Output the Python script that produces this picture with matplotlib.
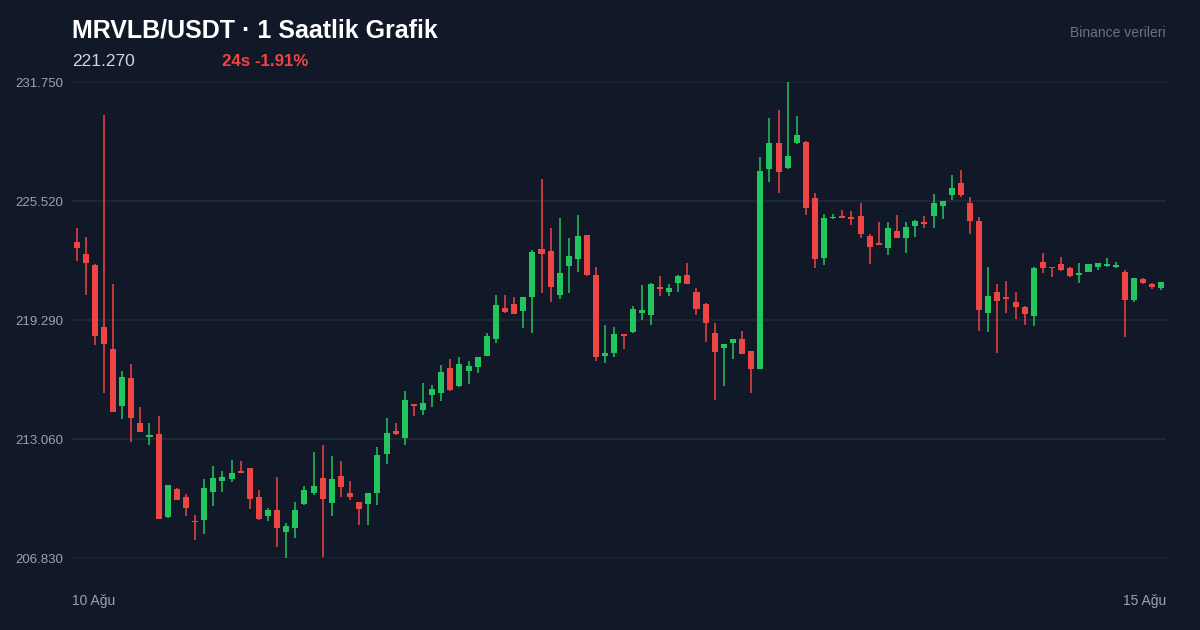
import numpy as np
import matplotlib
matplotlib.use("Agg")
from matplotlib import pyplot as plt

# hourly candles
opens = [223.36, 222.75, 222.19, 218.92, 217.77, 214.80, 216.26, 213.92, 213.18, 213.31,
         208.96, 210.46, 210.04, 208.78, 208.82, 210.27, 210.85, 210.97, 211.37, 211.53,
         210.01, 209.03, 209.36, 208.18, 208.39, 209.64, 210.25, 211.04, 209.70, 211.12,
         210.25, 209.75, 209.67, 210.25, 212.28, 213.48, 213.13, 214.88, 214.58, 215.37,
         215.45, 216.78, 215.85, 216.64, 216.85, 217.41, 218.28, 219.93, 220.11, 219.78,
         220.51, 222.99, 222.89, 220.58, 222.13, 222.50, 223.72, 221.63, 217.39, 217.58,
         218.54, 218.68, 219.67, 219.55, 221.03, 220.74, 221.21, 221.65, 220.77, 220.11,
         218.63, 217.81, 218.10, 218.30, 217.67, 216.71, 227.18, 228.54, 227.26, 228.57,
         228.62, 225.66, 222.55, 224.62, 224.75, 224.70, 224.75, 223.69, 223.34, 223.08,
         223.95, 223.60, 224.21, 224.41, 224.74, 225.26, 225.84, 226.45, 225.40, 224.47,
         219.67, 220.74, 220.51, 220.25, 219.99, 219.50, 222.33, 222.08, 222.22, 222.00,
         221.65, 221.82, 222.08, 222.12, 222.08, 221.82, 220.34, 221.42, 221.16, 220.98]
highs = [224.09, 223.62, 222.20, 230.02, 221.18, 216.62, 216.99, 214.75, 213.88, 214.27,
         210.65, 210.47, 210.17, 209.08, 210.97, 211.65, 211.40, 211.96, 211.93, 211.55,
         210.39, 209.43, 211.06, 208.65, 209.78, 210.60, 212.40, 212.75, 212.17, 211.93,
         210.86, 209.76, 210.23, 212.66, 214.15, 213.88, 215.57, 214.89, 215.98, 215.89,
         216.94, 217.25, 217.34, 217.15, 217.35, 218.59, 220.60, 220.60, 220.51, 220.52,
         222.96, 226.67, 224.09, 224.65, 223.60, 224.79, 223.75, 222.05, 219.03, 218.94,
         218.55, 220.02, 221.12, 221.24, 221.61, 221.18, 221.65, 222.26, 220.98, 220.16,
         219.12, 218.03, 218.31, 218.73, 217.68, 227.84, 229.85, 230.28, 231.75, 229.97,
         228.66, 225.92, 224.84, 224.83, 225.05, 225.01, 225.43, 223.79, 224.44, 224.44,
         224.79, 224.44, 224.53, 224.75, 225.89, 225.52, 226.88, 227.15, 225.74, 224.70,
         222.08, 221.18, 221.33, 220.74, 220.02, 222.05, 222.78, 222.09, 222.60, 222.05,
         222.26, 222.23, 222.27, 222.52, 222.34, 221.91, 221.47, 221.47, 221.24, 221.29]
lows = [222.40, 220.60, 217.98, 215.45, 214.45, 214.11, 212.92, 213.41, 212.75, 208.85,
        208.93, 209.87, 209.05, 207.77, 208.09, 209.57, 210.27, 210.83, 211.28, 209.38,
        208.82, 208.78, 207.42, 206.83, 207.86, 209.63, 210.13, 206.87, 209.03, 210.01,
        209.87, 208.56, 208.56, 209.61, 211.75, 213.27, 212.75, 214.28, 214.30, 214.75,
        215.07, 215.59, 215.77, 215.93, 216.50, 217.38, 218.07, 219.64, 219.61, 218.89,
        218.63, 220.69, 220.25, 220.37, 220.69, 221.79, 221.60, 217.16, 217.02, 217.37,
        217.77, 218.60, 219.29, 219.03, 220.56, 220.56, 220.77, 221.17, 219.55, 218.12,
        215.10, 215.84, 217.23, 217.49, 215.49, 216.70, 226.53, 225.96, 227.19, 228.49,
        224.79, 222.00, 222.17, 224.58, 224.61, 224.26, 223.57, 222.22, 223.22, 222.69,
        223.57, 222.81, 223.65, 224.12, 224.09, 224.56, 225.57, 225.71, 223.78, 218.73,
        218.65, 217.55, 219.67, 219.33, 219.03, 218.98, 221.77, 221.56, 221.87, 221.56,
        221.24, 221.81, 221.91, 222.08, 222.00, 218.39, 220.22, 221.19, 220.91, 220.86]
closes = [223.04, 222.26, 218.47, 218.05, 214.49, 216.31, 214.15, 213.44, 213.27, 208.86,
          210.64, 209.88, 209.43, 208.72, 210.50, 211.02, 211.07, 211.27, 211.28, 209.92,
          208.86, 209.36, 208.40, 208.51, 209.34, 210.39, 210.62, 209.91, 210.95, 210.56,
          210.01, 209.41, 210.22, 212.22, 213.36, 213.32, 215.10, 214.79, 214.93, 215.66,
          216.57, 215.63, 216.99, 216.88, 217.34, 218.45, 220.08, 219.73, 219.62, 220.51,
          222.84, 222.75, 221.03, 221.77, 222.66, 223.69, 221.63, 217.37, 217.56, 218.54,
          218.47, 219.85, 219.81, 221.18, 220.93, 220.95, 221.59, 221.18, 219.87, 219.12,
          217.63, 218.02, 218.30, 217.50, 216.74, 227.09, 228.57, 227.02, 227.88, 228.98,
          225.14, 222.48, 224.62, 224.70, 224.62, 224.59, 223.79, 223.13, 223.23, 224.12,
          223.60, 224.17, 224.47, 224.32, 225.43, 225.51, 226.20, 225.82, 224.49, 219.81,
          220.55, 220.30, 220.41, 219.96, 219.59, 222.03, 222.00, 222.00, 221.91, 221.57,
          221.77, 222.22, 222.26, 222.21, 222.17, 220.34, 221.47, 221.23, 221.03, 221.27]

title = "MRVLB/USDT · 1 Saatlik Grafik"
last_price = "221.270"
change_24h = "24s -1.91%"
source = "Binance verileri"
date_labels = ["10 Ağu", "15 Ağu"]

BG = "#111827"
UP = "#22c55e"
DOWN = "#ef4444"
GRID = "#1f2937"
MUTED = "#9ca3af"

plt.rcParams["font.family"] = ["Liberation Sans", "DejaVu Sans"]

o = np.array(opens)
h = np.array(highs)
l = np.array(lows)
c = np.array(closes)
x = np.arange(len(o))
colors = np.where(c >= o, UP, DOWN)

fig = plt.figure(figsize=(12, 6.3), dpi=100, facecolor=BG)
ax = fig.add_axes([72 / 1200, 72 / 630, 1094 / 1200, 476 / 630])
ax.set_facecolor(BG)

lo, hi = l.min(), h.max()
ticks = np.linspace(lo, hi, 5)
for t in ticks:
    ax.axhline(t, color=GRID, lw=1.2, zorder=0)

ax.vlines(x, l, h, colors=colors, lw=1.1, zorder=2)
body_h = np.maximum(np.abs(c - o), 0.06)
ax.bar(x, body_h, bottom=np.minimum(o, c), width=0.66, color=colors, lw=0, zorder=3)

ax.set_xlim(-0.5, len(o) - 0.5)
ax.set_ylim(lo, hi)
ax.set_yticks(ticks)
ax.set_yticklabels([f"{t:.3f}" for t in ticks])
ax.tick_params(axis="y", length=0, pad=6, colors=MUTED, labelsize=9.5)
ax.set_xticks([])
for s in ax.spines.values():
    s.set_visible(False)

ax.text(0, -0.09, date_labels[0], transform=ax.transAxes, ha="left", va="center",
        color=MUTED, fontsize=10)
ax.text(1, -0.09, date_labels[1], transform=ax.transAxes, ha="right", va="center",
        color=MUTED, fontsize=10)

fig.text(72 / 1200, 1 - 30 / 630, title, ha="left", va="center", color="white",
         fontsize=18, fontweight="bold")
fig.text(72 / 1200, 1 - 61 / 630, last_price, ha="left", va="center", color="#d1d5db",
         fontsize=12.5)
fig.text(222 / 1200, 1 - 61 / 630, change_24h, ha="left", va="center", color=DOWN,
         fontsize=12.2, fontweight="bold")
fig.text(1166 / 1200, 1 - 33 / 630, source, ha="right", va="center", color="#6b7280",
         fontsize=10)

fig.savefig("out.png", dpi=100, facecolor=BG)
